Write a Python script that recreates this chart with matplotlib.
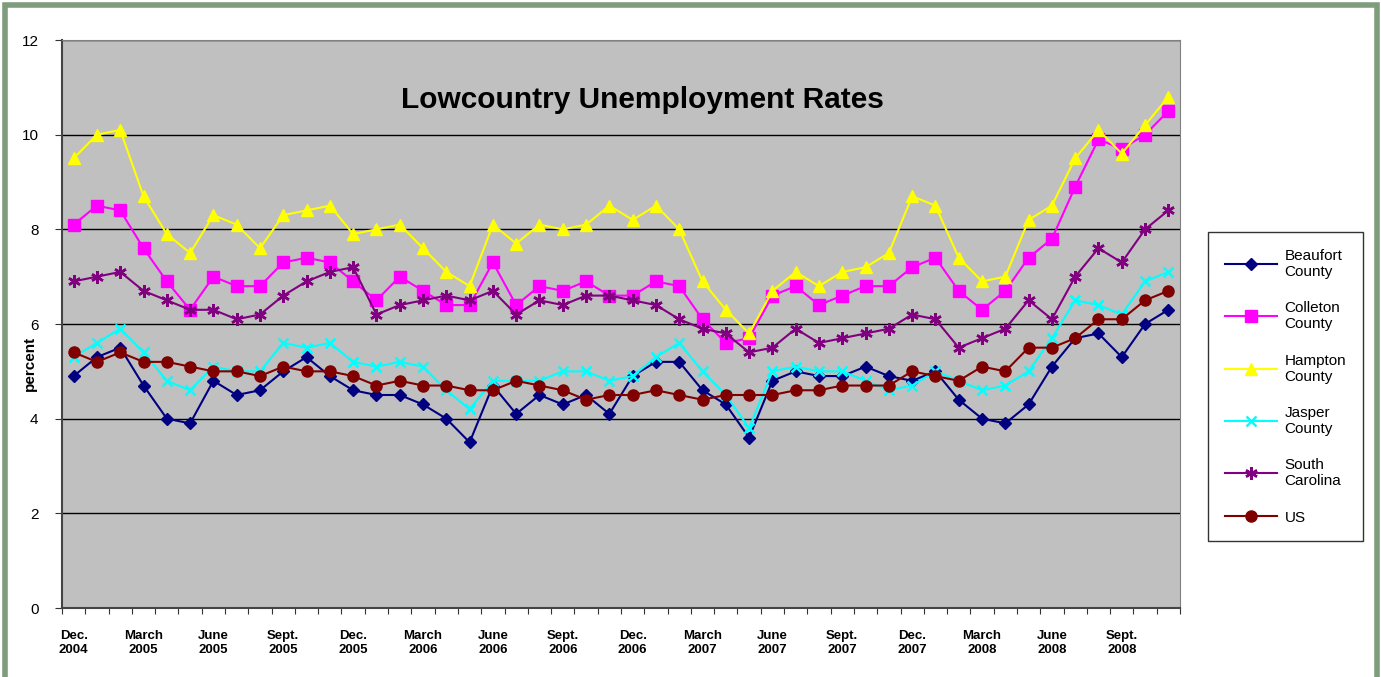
import numpy as np
import matplotlib.pyplot as plt
from matplotlib.patches import Rectangle

plt.rcParams['font.family'] = ['Liberation Sans', 'DejaVu Sans']

# Monthly data, Dec 2004 - Nov 2008
beaufort = [4.9, 5.3, 5.5, 4.7, 4.0, 3.9, 4.8, 4.5, 4.6, 5.0, 5.3, 4.9, 4.6,
            4.5, 4.5, 4.3, 4.0, 3.5, 4.7, 4.1, 4.5, 4.3, 4.5, 4.1,
            4.9, 5.2, 5.2, 4.6, 4.3, 3.6, 4.8, 5.0, 4.9, 4.9, 5.1, 4.9, 4.8,
            5.0, 4.4, 4.0, 3.9, 4.3, 5.1, 5.7, 5.8, 5.3, 6.0, 6.3]
colleton = [8.1, 8.5, 8.4, 7.6, 6.9, 6.3, 7.0, 6.8, 6.8, 7.3, 7.4, 7.3, 6.9,
            6.5, 7.0, 6.7, 6.4, 6.4, 7.3, 6.4, 6.8, 6.7, 6.9, 6.6,
            6.6, 6.9, 6.8, 6.1, 5.6, 5.7, 6.6, 6.8, 6.4, 6.6, 6.8, 6.8, 7.2,
            7.4, 6.7, 6.3, 6.7, 7.4, 7.8, 8.9, 9.9, 9.7, 10.0, 10.5]
hampton = [9.5, 10.0, 10.1, 8.7, 7.9, 7.5, 8.3, 8.1, 7.6, 8.3, 8.4, 8.5, 7.9,
           8.0, 8.1, 7.6, 7.1, 6.8, 8.1, 7.7, 8.1, 8.0, 8.1, 8.5,
           8.2, 8.5, 8.0, 6.9, 6.3, 5.8, 6.7, 7.1, 6.8, 7.1, 7.2, 7.5, 8.7,
           8.5, 7.4, 6.9, 7.0, 8.2, 8.5, 9.5, 10.1, 9.6, 10.2, 10.8]
jasper = [5.3, 5.6, 5.9, 5.4, 4.8, 4.6, 5.1, 5.0, 5.0, 5.6, 5.5, 5.6, 5.2,
          5.1, 5.2, 5.1, 4.6, 4.2, 4.8, 4.8, 4.8, 5.0, 5.0, 4.8,
          4.9, 5.3, 5.6, 5.0, 4.5, 3.8, 5.0, 5.1, 5.0, 5.0, 4.8, 4.6, 4.7,
          5.0, 4.8, 4.6, 4.7, 5.0, 5.7, 6.5, 6.4, 6.2, 6.9, 7.1]
south_carolina = [6.9, 7.0, 7.1, 6.7, 6.5, 6.3, 6.3, 6.1, 6.2, 6.6, 6.9, 7.1, 7.2,
                  6.2, 6.4, 6.5, 6.6, 6.5, 6.7, 6.2, 6.5, 6.4, 6.6, 6.6,
                  6.5, 6.4, 6.1, 5.9, 5.8, 5.4, 5.5, 5.9, 5.6, 5.7, 5.8, 5.9, 6.2,
                  6.1, 5.5, 5.7, 5.9, 6.5, 6.1, 7.0, 7.6, 7.3, 8.0, 8.4]
us = [5.4, 5.2, 5.4, 5.2, 5.2, 5.1, 5.0, 5.0, 4.9, 5.1, 5.0, 5.0, 4.9,
      4.7, 4.8, 4.7, 4.7, 4.6, 4.6, 4.8, 4.7, 4.6, 4.4, 4.5,
      4.5, 4.6, 4.5, 4.4, 4.5, 4.5, 4.5, 4.6, 4.6, 4.7, 4.7, 4.7, 5.0,
      4.9, 4.8, 5.1, 5.0, 5.5, 5.5, 5.7, 6.1, 6.1, 6.5, 6.7]

tick_labels = ["Dec.\n2004", "March\n2005", "June\n2005", "Sept.\n2005",
               "Dec.\n2005", "March\n2006", "June\n2006", "Sept.\n2006",
               "Dec.\n2006", "March\n2007", "June\n2007", "Sept.\n2007",
               "Dec.\n2007", "March\n2008", "June\n2008", "Sept.\n2008"]

x = np.arange(len(beaufort))

fig = plt.figure(figsize=(13.81, 6.77), dpi=100)
ax = fig.add_axes([62/1381, 69/677, 1118/1381, 568/677])
ax.set_facecolor('#c0c0c0')

series = [
    (beaufort, "Beaufort\nCounty", '#000080', 'D', 6),
    (colleton, "Colleton\nCounty", '#ff00ff', 's', 8),
    (hampton, "Hampton\nCounty", '#ffff00', '^', 8),
    (jasper, "Jasper\nCounty", '#00ffff', 'x', 7),
    (south_carolina, "South\nCarolina", '#800080', (6, 2, 0), 9),
    (us, "US", '#800000', 'o', 8),
]
for vals, name, col, mk, ms in series:
    ax.plot(x, vals, color=col, marker=mk, markersize=ms, linewidth=1.5,
            markeredgewidth=1.8 if mk in ('x', (6, 2, 0)) else 1,
            markeredgecolor=col, label=name)

ax.set_xlim(-0.5, len(x) - 0.5)
ax.set_ylim(0, 12)
ax.set_yticks(np.arange(0, 13, 2))
ax.tick_params(axis='y', labelsize=11, length=5, color='#333333', pad=12)
ax.yaxis.grid(True, color='black', linewidth=1)
ax.set_axisbelow(True)

# category boundaries carry the tick marks, every third month gets a label
ax.set_xticks(np.arange(-0.5, len(x), 1.0))
ax.set_xticklabels([])
ax.tick_params(axis='x', which='major', length=4, color='#333333')
ax.set_xticks(np.arange(0, len(x), 3), minor=True)
ax.set_xticklabels(tick_labels, minor=True, fontsize=9.5, fontweight='bold')
ax.tick_params(axis='x', which='minor', length=0, pad=16)

for s in ['left', 'bottom']:
    ax.spines[s].set_color('#444444')
    ax.spines[s].set_linewidth(1.5)
for s in ['top', 'right']:
    ax.spines[s].set_color('#808080')

ax.set_ylabel("percent", fontsize=11, fontweight='bold')
ax.yaxis.set_label_coords(-25/1118, 245/568)
ax.text(0.519, 0.895, "Lowcountry Unemployment Rates", transform=ax.transAxes,
        ha='center', va='center', fontsize=21.5, fontweight='bold')

leg = fig.legend(loc='upper left', bbox_to_anchor=(1208/1381, 1 - 232/677),
                 borderaxespad=0, fontsize=11, frameon=True, fancybox=False,
                 edgecolor='black', borderpad=1.1, labelspacing=1.45,
                 handlelength=3.4, handletextpad=0.5)
leg.get_frame().set_linewidth(1)

# green outer border
fig.patches.append(Rectangle((5/1381, -0.05), 1372/1381, 1.05 - 5/677,
                             transform=fig.transFigure, fill=False,
                             edgecolor='#7d9d7d', linewidth=4))

fig.savefig("out.png", dpi=100)
